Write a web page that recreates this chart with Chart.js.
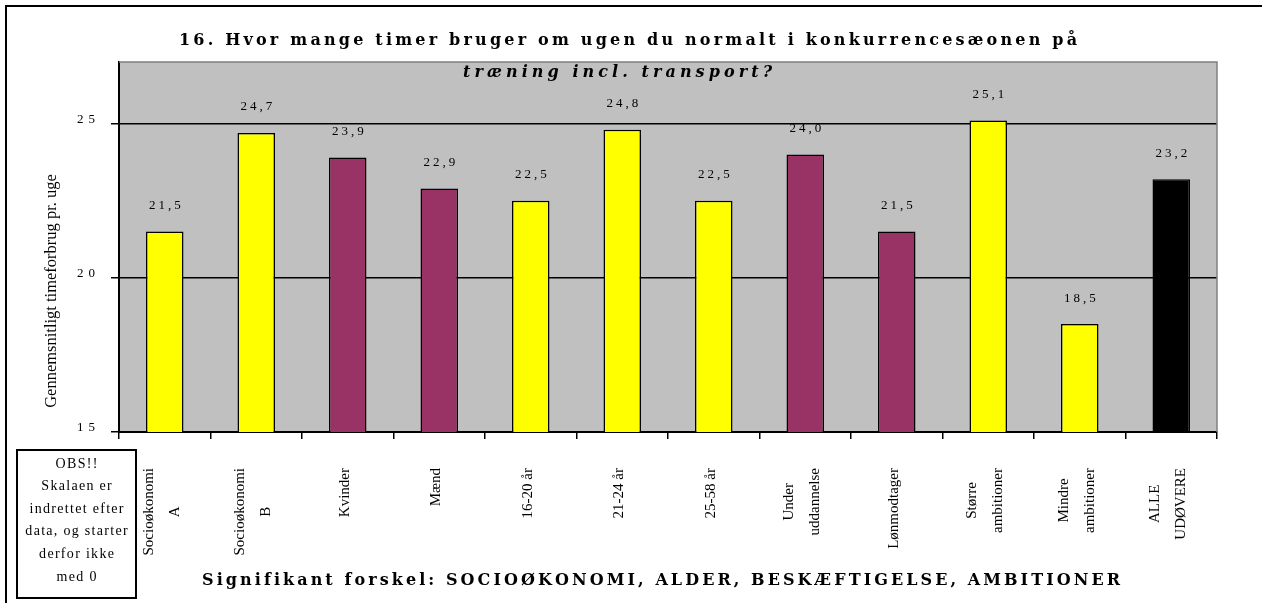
<!DOCTYPE html>
<html>
<head>
<meta charset="utf-8">
<script src="https://cdn.jsdelivr.net/npm/chart.js@4"></script>
<style>
	body { margin: 0; background: #fff; }
</style>
</head>
<body>
<canvas id="chart" width="1262" height="603"></canvas>
<script>
var categories = [['Socioøkonomi', 'A'], ['Socioøkonomi', 'B'], 'Kvinder', 'Mænd', '16-20 år', '21-24 år',
	'25-58 år', ['Under', 'uddannelse'], 'Lønmodtager', ['Større', 'ambitioner'], ['Mindre', 'ambitioner'], ['ALLE', 'UDØVERE']];
var values = [21.5, 24.7, 23.9, 22.9, 22.5, 24.8, 22.5, 24.0, 21.5, 25.1, 18.5, 23.2];
var groups = ['socio', 'socio', 'koen', 'koen', 'alder', 'alder', 'alder', 'job', 'job', 'ambition', 'ambition', 'alle'];
var yMin = 15;
var yMax = 27;
var yStep = 5;

var titleText = '16. Hvor mange timer bruger om ugen du normalt i konkurrencesæonen på';
var subtitleText = 'træning incl. transport?';
var yTitleText = 'Gennemsnitligt timeforbrug pr. uge';
var bottomText = 'Signifikant forskel: SOCIOØKONOMI, ALDER, BESKÆFTIGELSE, AMBITIONER';
var noteLines = ['OBS!!', 'Skalaen er', 'indrettet efter', 'data, og starter', 'derfor ikke', 'med 0'];

var groupColors = {
	socio: '#ffff00',
	koen: '#993366',
	alder: '#ffff00',
	job: '#993366',
	ambition: '#ffff00',
	alle: '#000000'
};

// text with extra space between the letters, drawn char by char
function drawSpaced(ctx, text, x, y, spacing, align) {
	var widths = [];
	var total = 0;
	for (var i = 0; i < text.length; i++) {
		widths.push(ctx.measureText(text[i]).width);
		total += widths[i];
	}
	total += spacing * (text.length - 1);
	var start = x;
	if (align == 'center')
		start = x - total / 2;
	else if (align == 'right')
		start = x - total;
	ctx.textAlign = 'left';
	for (var i = 0; i < text.length; i++) {
		ctx.fillText(text[i], start, y);
		start += widths[i] + spacing;
	}
}

// same, but spread so the text fills x0..x1
function drawFitted(ctx, text, x0, x1, y) {
	var raw = 0;
	for (var i = 0; i < text.length; i++)
		raw += ctx.measureText(text[i]).width;
	var spacing = (x1 - x0 - raw) / (text.length - 1);
	drawSpaced(ctx, text, x0, y, spacing, 'left');
}

var decorations = {
	id: 'decorations',
	beforeDraw: function(chart) {
		var ctx = chart.ctx;
		var a = chart.chartArea;
		ctx.save();
		ctx.fillStyle = '#ffffff';
		ctx.fillRect(0, 0, chart.width, chart.height);
		ctx.fillStyle = '#c0c0c0';
		ctx.fillRect(a.left, a.top, a.right - a.left, a.bottom - a.top);
		ctx.restore();
	},
	afterDatasetsDraw: function(chart) {
		var ctx = chart.ctx;
		var meta = chart.getDatasetMeta(0);
		ctx.save();
		ctx.fillStyle = '#000';
		ctx.font = '13px "Liberation Serif"';
		ctx.textBaseline = 'middle';
		meta.data.forEach(function(bar, i) {
			var txt = values[i].toFixed(1).replace('.', ',');
			drawSpaced(ctx, txt, bar.x, bar.y - 26, 3, 'center');
		});
		ctx.restore();
	},
	afterDraw: function(chart) {
		var ctx = chart.ctx;
		var a = chart.chartArea;
		var xs = chart.scales.x;
		var ys = chart.scales.y;
		ctx.save();

		// plot frame top / right
		ctx.strokeStyle = '#808080';
		ctx.lineWidth = 1.5;
		ctx.beginPath();
		ctx.moveTo(a.left, a.top);
		ctx.lineTo(a.right, a.top);
		ctx.lineTo(a.right, a.bottom);
		ctx.stroke();

		// outer frame
		ctx.strokeStyle = '#000';
		ctx.lineWidth = 2;
		ctx.strokeRect(6, 6, 1300, 700);

		ctx.fillStyle = '#000';

		// titles
		ctx.textBaseline = 'alphabetic';
		ctx.font = 'bold 16px "DejaVu Serif"';
		drawFitted(ctx, titleText, 179, 1077, 45);
		ctx.font = 'bold italic 16px "DejaVu Serif"';
		drawFitted(ctx, subtitleText, 463, 772, 77);
		ctx.font = 'bold 16px "DejaVu Serif"';
		drawFitted(ctx, bottomText, 202, 1120, 585);

		// y tick labels
		ctx.font = '13px "Liberation Serif"';
		ctx.textBaseline = 'middle';
		ys.ticks.forEach(function(t) {
			drawSpaced(ctx, String(t.value), 95, ys.getPixelForValue(t.value) - 4, 5, 'right');
		});

		// y title
		ctx.save();
		ctx.translate(52, 291);
		ctx.rotate(-Math.PI / 2);
		ctx.font = '16.5px "Liberation Serif"';
		ctx.textAlign = 'center';
		ctx.fillText(yTitleText, 0, 0);
		ctx.restore();

		// category labels, lines centred on each other
		ctx.font = '15px "Liberation Serif"';
		chart.data.labels.forEach(function(lab, i) {
			var lines = Array.isArray(lab) ? lab : [lab];
			var px = xs.getPixelForValue(i) - 3;
			var maxW = 0;
			lines.forEach(function(l) { maxW = Math.max(maxW, ctx.measureText(l).width); });
			lines.forEach(function(l, j) {
				ctx.save();
				ctx.translate(px + (j - (lines.length - 1) / 2) * 26, 468 + maxW / 2);
				ctx.rotate(-Math.PI / 2);
				ctx.textAlign = 'center';
				ctx.textBaseline = 'middle';
				ctx.fillText(l, 0, 0);
				ctx.restore();
			});
		});

		// note box
		ctx.lineWidth = 2;
		ctx.strokeRect(17, 450, 119, 148);
		ctx.font = '14px "Liberation Serif"';
		ctx.textBaseline = 'middle';
		noteLines.forEach(function(l, i) {
			drawSpaced(ctx, l, 76.5, 464 + i * 22.6, 1.3, 'center');
		});

		ctx.restore();
	}
};

new Chart(document.getElementById('chart'), {
	type: 'bar',
	data: {
		labels: categories,
		datasets: [{
			data: values,
			backgroundColor: groups.map(function(g) { return groupColors[g]; }),
			borderColor: '#000',
			borderWidth: 1.5,
			borderSkipped: false,
			barPercentage: 0.41,
			categoryPercentage: 1
		}]
	},
	options: {
		responsive: false,
		animation: false,
		layout: {
			padding: { left: 0, top: 62, right: 45, bottom: 0 }
		},
		plugins: {
			legend: { display: false },
			tooltip: { enabled: false }
		},
		scales: {
			x: {
				ticks: { display: false },
				grid: {
					offset: true,
					drawOnChartArea: false,
					color: '#000',
					lineWidth: 1.5,
					tickLength: 7
				},
				border: { color: '#000', width: 2 },
				afterFit: function(scale) { scale.height = 171; }
			},
			y: {
				min: yMin,
				max: yMax,
				ticks: { display: false, stepSize: yStep, includeBounds: false },
				grid: {
					color: '#000',
					lineWidth: 1.5,
					tickLength: 8
				},
				border: { color: '#000', width: 2 },
				afterFit: function(scale) { scale.width = 119; }
			}
		}
	},
	plugins: [decorations]
});
</script>
</body>
</html>
